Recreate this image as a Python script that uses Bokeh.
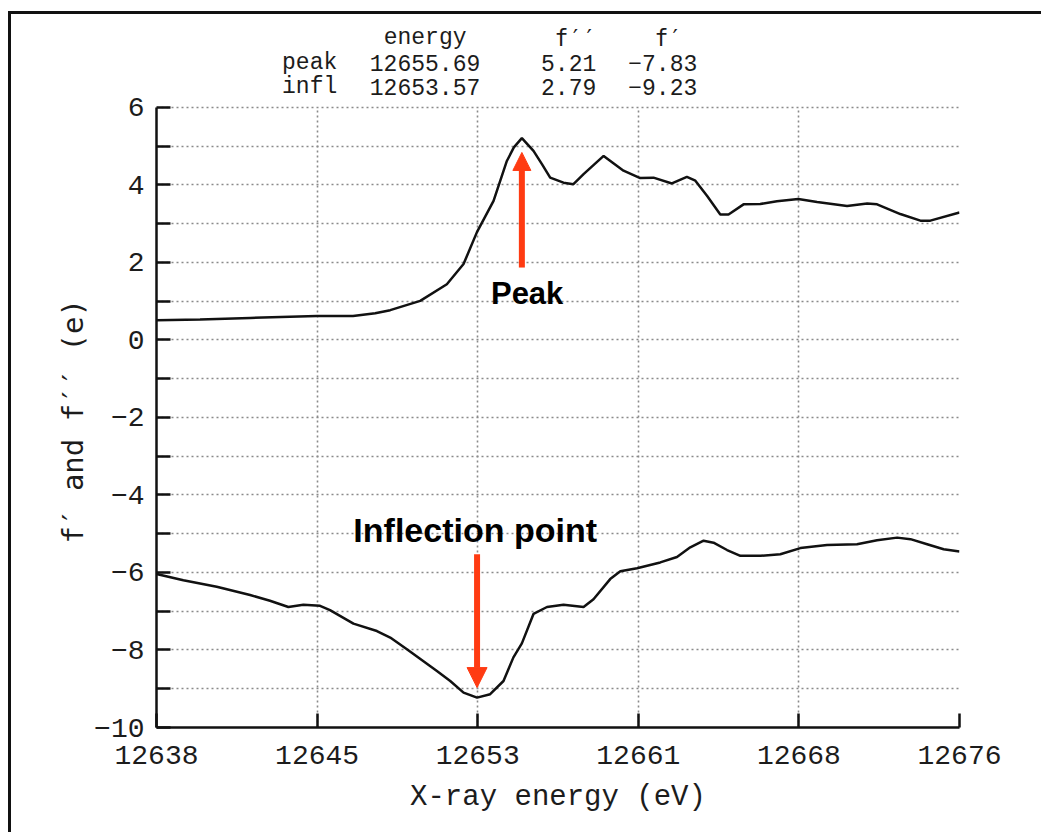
from bokeh.plotting import figure
from bokeh.models import Range1d, FixedTicker, Label, Arrow, NormalHead, Title
from bokeh.embed import file_html
from bokeh.resources import INLINE

# Anomalous scattering factors across the absorption edge (electrons)
f2_energy = [12638.40, 12640.46, 12642.83, 12645.99, 12647.70, 12648.75, 12649.46,
             12650.88, 12652.14, 12652.93, 12653.57, 12654.35, 12654.98, 12655.31,
             12655.69, 12656.24, 12656.64, 12657.03, 12657.66, 12658.13, 12658.61,
             12659.56, 12660.50, 12661.29, 12661.92, 12662.79, 12663.50, 12663.90,
             12664.45, 12665.08, 12665.47, 12666.18, 12666.97, 12667.76, 12668.77,
             12669.66, 12671.08, 12672.03, 12672.50, 12673.60, 12674.55, 12675.02,
             12676.40]
f2_value = [0.51, 0.53, 0.57, 0.62, 0.62, 0.69, 0.77,
            1.01, 1.44, 1.96, 2.79, 3.59, 4.62, 4.97,
            5.21, 4.88, 4.54, 4.19, 4.06, 4.02, 4.28,
            4.75, 4.37, 4.18, 4.19, 4.04, 4.21, 4.11,
            3.72, 3.24, 3.24, 3.50, 3.51, 3.58, 3.64,
            3.56, 3.46, 3.52, 3.50, 3.25, 3.08, 3.08,
            3.29]

f1_energy = [12638.40, 12639.67, 12641.25, 12642.83, 12643.77, 12644.64, 12645.35,
             12646.14, 12646.61, 12647.72, 12648.83, 12649.46, 12650.25, 12651.67,
             12652.30, 12652.93, 12653.57, 12654.19, 12654.82, 12655.29, 12655.69,
             12656.24, 12656.88, 12657.66, 12658.61, 12659.08, 12659.87, 12660.35,
             12661.14, 12662.24, 12663.03, 12663.66, 12664.29, 12664.76, 12665.40,
             12666.03, 12666.98, 12667.92, 12668.87, 12670.13, 12671.55, 12672.50,
             12673.45, 12674.08, 12674.87, 12675.65, 12676.40]
f1_value = [-6.04, -6.20, -6.37, -6.58, -6.73, -6.89, -6.83,
            -6.86, -6.97, -7.32, -7.51, -7.68, -7.98, -8.54,
            -8.80, -9.10, -9.23, -9.14, -8.80, -8.19, -7.83,
            -7.07, -6.89, -6.83, -6.89, -6.69, -6.17, -5.97,
            -5.89, -5.74, -5.60, -5.35, -5.18, -5.23, -5.42,
            -5.57, -5.57, -5.53, -5.37, -5.29, -5.27, -5.17,
            -5.10, -5.14, -5.27, -5.40, -5.46]

# Edge summary table
row_names = ["peak", "infl"]
row_energy = [12655.69, 12653.57]
row_f2 = [5.21, 2.79]
row_f1 = [-7.83, -9.23]

# Axis ticks
x_start, x_end, x_step = 12638.4, 12676.4, 7.6
x_tick_labels = ["12638", "12645", "12653", "12661", "12668", "12676"]
y_major = [-10, -8, -6, -4, -2, 0, 2, 4, 6]
y_minor = [-9, -7, -5, -3, -1, 1, 3, 5]
y_lo, y_hi = -10, 6

RED = "#FF3B12"
INK = "#1c1c1c"
MONO = "Liberation Mono"
PRIME_MONO = "DejaVu Sans Mono"   # has a slanted prime glyph
SANS = "Liberation Sans"

# the frame reaches above y=6 so the summary table can sit over the axes
p = figure(frame_width=803, frame_height=707,
           min_border_left=145, min_border_right=82,
           min_border_top=6, min_border_bottom=105,
           x_range=Range1d(x_start, x_end), y_range=Range1d(y_lo, 8.245),
           output_backend="svg", toolbar_location=None,
           background_fill_color="white", border_fill_color="white")
p.outline_line_color = None
p.styles = {"margin-left": "8px", "margin-top": "11px",
            "border-left": "3px solid #111", "border-top": "3px solid #111"}

x_ticks = [round(x_start + x_step * k, 2) for k in range(len(x_tick_labels))]
p.xaxis.ticker = FixedTicker(ticks=x_ticks)
p.xaxis.major_label_overrides = {t: s for t, s in zip(x_ticks, x_tick_labels)}
p.yaxis.ticker = FixedTicker(ticks=y_major, minor_ticks=y_minor)
p.yaxis.bounds = (y_lo, y_hi)
p.xgrid.ticker = FixedTicker(ticks=x_ticks)
p.xgrid.cross_bounds = (y_lo, y_hi)
p.ygrid.ticker = FixedTicker(ticks=y_major, minor_ticks=y_minor)

for ax in (p.xaxis, p.yaxis):
    ax.axis_line_color = "#111"
    ax.axis_line_width = 2.5
    ax.major_tick_in = 14
    ax.major_tick_out = 0
    ax.major_tick_line_width = 2.5
    ax.major_tick_line_color = "#111"
    ax.major_label_text_font = MONO
    ax.major_label_text_font_size = "28px"
    ax.major_label_text_color = INK
    ax.axis_label_text_font = MONO
    ax.axis_label_text_font_size = "29px"
    ax.axis_label_text_font_style = "normal"
    ax.axis_label_text_color = INK

p.xaxis.minor_tick_line_color = None
p.yaxis.minor_tick_in = 14
p.yaxis.minor_tick_out = 0
p.yaxis.minor_tick_line_width = 2.5
p.yaxis.minor_tick_line_color = "#111"
p.xaxis.major_label_standoff = 18
p.yaxis.major_label_standoff = 12
p.xaxis.axis_label_standoff = 14
p.xaxis.axis_label = "X-ray energy (eV)"

# y label sits beside the -10..6 span only, not the table area above it
p.add_layout(Title(text="f\u2032 and f\u2032\u2032 (e)", align="left", offset=184,
                   standoff=4, text_font=PRIME_MONO, text_font_size="29px",
                   text_font_style="normal", text_color=INK), "left")

for g in (p.xgrid, p.ygrid):
    g.grid_line_color = "#8a8a8a"
    g.grid_line_width = 1.6
    g.grid_line_dash = "2 3"
p.ygrid.minor_grid_line_color = "#8a8a8a"
p.ygrid.minor_grid_line_width = 1.6
p.ygrid.minor_grid_line_dash = "2 3"

p.line(f2_energy, f2_value, line_color="#111", line_width=2.5)
p.line(f1_energy, f1_value, line_color="#111", line_width=2.5)


def table_text(x, y, text, align, font=MONO):
    p.add_layout(Label(x=x, y=y, text=text, text_align=align,
                       text_baseline="alphabetic", text_font=font,
                       text_font_size="23px", text_color=INK))


# Summary table above the curves
hdr_y, row_y = 7.80, [7.15, 6.53]
table_text(12651.11, hdr_y, "energy", "center")
table_text(12658.22, hdr_y, "f\u2032\u2032", "center", PRIME_MONO)
table_text(12662.62, hdr_y, "f\u2032", "center", PRIME_MONO)
for name, e, f2, f1, yy in zip(row_names, row_energy, row_f2, row_f1, row_y):
    table_text(12644.34, yy, name, "left")
    table_text(12653.72, yy, f"{e:.2f}", "right")
    table_text(12659.21, yy, f"{f2:.2f}", "right")
    table_text(12663.99, yy, f"{f1:.2f}".replace("-", "\u2212"), "right")

# Arrows marking the white-line peak and the edge inflection point
peak_e, infl_e = row_energy
p.add_layout(Arrow(end=NormalHead(size=18, fill_color=RED, line_color=RED, line_width=1),
                   x_start=peak_e, y_start=1.87, x_end=peak_e, y_end=4.84,
                   line_color=RED, line_width=6))
p.add_layout(Arrow(end=NormalHead(size=20, fill_color=RED, line_color=RED, line_width=1),
                   x_start=infl_e, y_start=-5.53, x_end=infl_e, y_end=-8.97,
                   line_color=RED, line_width=6))
p.add_layout(Label(x=12655.94, y=1.19, text="Peak", text_align="center",
                   text_baseline="alphabetic",
                   text_font=SANS, text_font_style="bold", text_font_size="31px",
                   text_color="black"))
p.add_layout(Label(x=12653.48, y=-4.90, text="Inflection point", text_align="center",
                   text_baseline="alphabetic",
                   text_font=SANS, text_font_style="bold", text_font_size="34px",
                   text_color="black"))

open("out.html", "w").write(file_html(p, INLINE))
